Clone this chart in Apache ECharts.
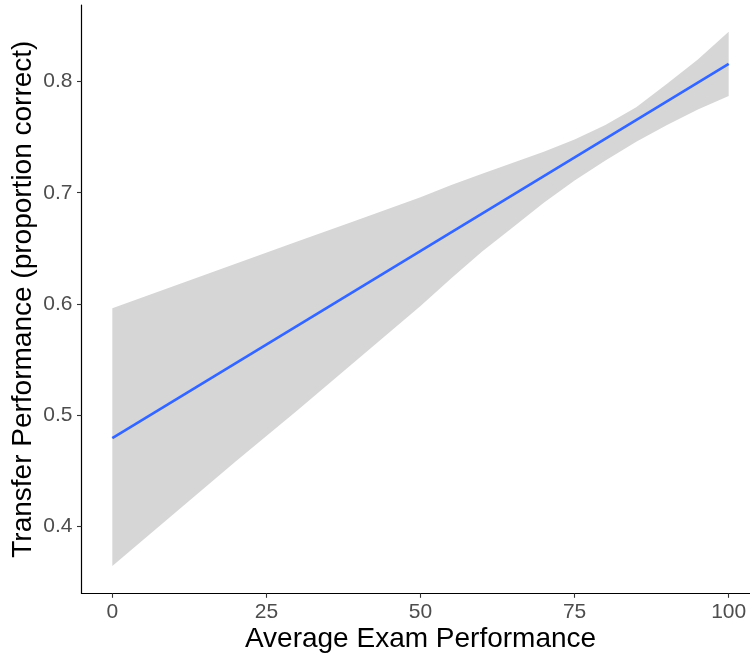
<!DOCTYPE html>
<html>
<head>
<meta charset="utf-8">
<script src="https://cdn.jsdelivr.net/npm/echarts@6/dist/echarts.min.js"></script>
<style>
html,body{margin:0;padding:0;background:#fff;}
#chart{width:750px;height:657px;}
</style>
</head>
<body>
<div id="chart"></div>
<script>
// Confidence band
const bandX     = [0, 10, 20, 30, 40, 50, 55, 60, 65, 70, 75, 80, 85, 90, 95, 100];
const bandUpper = [0.596, 0.616, 0.636, 0.656, 0.676, 0.696, 0.707, 0.717, 0.727, 0.737, 0.748, 0.761, 0.777, 0.798, 0.820, 0.845];
const bandLower = [0.364, 0.411, 0.458, 0.504, 0.551, 0.598, 0.623, 0.647, 0.669, 0.691, 0.711, 0.729, 0.746, 0.761, 0.775, 0.787];
// Fitted line
const fitX = [0, 100];
const fitY = [0.479, 0.816];
// Ticks
const xTicks = [0, 25, 50, 75, 100];
const yTicks = [0.4, 0.5, 0.6, 0.7, 0.8];

const chart = echarts.init(document.getElementById('chart'), null, {renderer: 'canvas'});
const FONT = '"Liberation Sans", Arial, sans-serif';

chart.setOption({
  animation: false,
  backgroundColor: '#ffffff',
  grid: {left: 81.5, right: -9.5, top: 5, bottom: 63.7, containLabel: false, outerBoundsMode: 'none'},
  xAxis: {
    type: 'value', min: -5, max: 105,
    name: 'Average Exam Performance',
    nameLocation: 'middle', nameGap: 32, nameMoveOverlap: false,
    nameTextStyle: {fontFamily: FONT, fontSize: 28, color: '#000'},
    axisLine: {show: true, onZero: false, lineStyle: {color: '#000', width: 1.2}},
    axisTick: {show: true, length: 4.5, customValues: xTicks, lineStyle: {color: '#333', width: 1.1}},
    axisLabel: {customValues: xTicks, margin: 8, fontFamily: FONT, fontSize: 21, color: '#4d4d4d'},
    splitLine: {show: false}
  },
  yAxis: {
    type: 'value', min: 0.3394, max: 0.869,
    name: 'Transfer Performance (proportion correct)',
    nameLocation: 'middle', nameGap: 44, nameRotate: 90, nameMoveOverlap: false,
    nameTextStyle: {fontFamily: FONT, fontSize: 28, color: '#000'},
    axisLine: {show: true, onZero: false, lineStyle: {color: '#000', width: 1.2}},
    axisTick: {show: true, length: 4.5, customValues: yTicks, lineStyle: {color: '#333', width: 1.1}},
    axisLabel: {customValues: yTicks, margin: 9, fontFamily: FONT, fontSize: 21, color: '#4d4d4d',
      formatter: v => v.toFixed(1)},
    splitLine: {show: false}
  },
  series: [
    {
      type: 'custom',
      z: 1,
      silent: true,
      data: [[bandX[0], bandLower[0]]],
      renderItem: function (params, api) {
        const pts = [];
        for (let i = 0; i < bandX.length; i++) pts.push(api.coord([bandX[i], bandUpper[i]]));
        for (let i = bandX.length - 1; i >= 0; i--) pts.push(api.coord([bandX[i], bandLower[i]]));
        return {type: 'polygon', shape: {points: pts}, style: {fill: '#d6d6d6', stroke: null}};
      }
    },
    {
      type: 'line',
      z: 2,
      symbol: 'none',
      silent: true,
      data: fitX.map((x, i) => [x, fitY[i]]),
      lineStyle: {color: '#3366FF', width: 2.6}
    }
  ]
});
</script>
</body>
</html>
